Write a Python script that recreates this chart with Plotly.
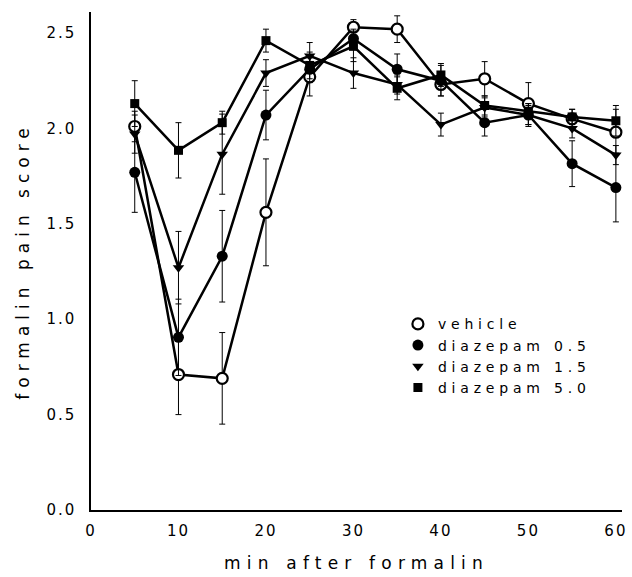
import plotly.graph_objects as go

minutes = [5, 10, 15, 20, 25, 30, 35, 40, 45, 50, 55, 60]

vehicle = [2.01, 0.71, 0.69, 1.56, 2.27, 2.53, 2.52, 2.23, 2.26, 2.13, 2.05, 1.98]
vehicle_err = [0.08, 0.21, 0.24, 0.28, 0.10, 0.04, 0.07, 0.06, 0.09, 0.11, 0.05, 0.12]

dz05 = [1.77, 0.905, 1.33, 2.07, 2.31, 2.47, 2.31, 2.25, 2.03, 2.07, 1.815, 1.69]
dz05_err = [0.21, 0.20, 0.24, 0.13, 0.07, 0.05, 0.08, 0.08, 0.07, 0.06, 0.12, 0.18]

dz15 = [1.97, 1.27, 1.865, 2.29, 2.38, 2.29, 2.23, 2.02, 2.11, 2.07, 2.00, 1.86]
dz15_err = [0.10, 0.19, 0.21, 0.07, 0.07, 0.08, 0.05, 0.06, 0.05, 0.05, 0.05, 0.05]

dz50 = [2.13, 1.885, 2.03, 2.46, 2.33, 2.43, 2.21, 2.28, 2.12, 2.09, 2.06, 2.04]
dz50_err = [0.12, 0.145, 0.06, 0.06, 0.07, 0.08, 0.06, 0.06, 0.05, 0.04, 0.04, 0.08]

x_ticks = [0, 10, 20, 30, 40, 50, 60]
y_ticks = [0.0, 0.5, 1.0, 1.5, 2.0, 2.5]

series = [
    ("vehicle", vehicle, vehicle_err, dict(symbol="circle", size=11, color="white", line=dict(color="black", width=2.2))),
    ("diazepam 0.5", dz05, dz05_err, dict(symbol="circle", size=11, color="black", line=dict(color="black", width=0))),
    ("diazepam 1.5", dz15, dz15_err, dict(symbol="triangle-down", size=10, color="black", line=dict(color="black", width=0))),
    ("diazepam 5.0", dz50, dz50_err, dict(symbol="square", size=9, color="black", line=dict(color="black", width=0))),
]

fig = go.Figure()
for name, ys, errs, mk in series:
    fig.add_trace(go.Scatter(
        x=minutes, y=ys, mode="lines+markers", name=name, showlegend=False,
        line=dict(color="black", width=2.5), marker=mk, cliponaxis=False,
        error_y=dict(type="data", array=errs, visible=True, color="black", thickness=1, width=3),
    ))
for name, ys, errs, mk in series:
    fig.add_trace(go.Scatter(x=[None], y=[None], mode="markers", name=name, marker=mk, showlegend=True))

FONT = "DejaVu Sans, Arial, sans-serif"
fig.update_layout(
    width=632, height=577,
    margin=dict(l=91, r=7, t=12, b=64),
    paper_bgcolor="white", plot_bgcolor="white",
    font=dict(family=FONT, color="black", size=14),
    showlegend=True,
    legend=dict(x=0.578, y=0.405, xanchor="left", yanchor="top", bgcolor="rgba(0,0,0,0)",
                font=dict(size=14, family=FONT), tracegroupgap=0, itemwidth=30),
    xaxis=dict(range=[0, 60.7], tickvals=x_ticks, ticktext=[str(v) for v in x_ticks],
               showgrid=False, zeroline=False, showline=True, linecolor="black", linewidth=1.5,
               ticks="", ticklabelstandoff=6, tickfont=dict(size=15),
               title=dict(text="min after formalin", font=dict(size=17), standoff=18)),
    yaxis=dict(range=[0, 2.61], tickvals=y_ticks, ticktext=[f"{v:.1f}" for v in y_ticks],
               showgrid=False, zeroline=False, showline=True, linecolor="black", linewidth=1.5,
               ticks="", ticklabelstandoff=10, tickfont=dict(size=15),
               title=dict(text="formalin pain score", font=dict(size=17), standoff=18)),
)

post = """
function spaceOut(){
  var gd = document.getElementById('{plot_id}');
  gd.querySelectorAll('.legend [clip-path]').forEach(function(e){e.removeAttribute('clip-path');});
  gd.querySelectorAll('.legendtext').forEach(function(t){t.style.letterSpacing='4.8px';});
  gd.querySelectorAll('.xtick text, .ytick text').forEach(function(t){t.style.letterSpacing='2px';});
  gd.querySelectorAll('.g-xtitle text').forEach(function(t){t.style.letterSpacing='6.2px';});
  gd.querySelectorAll('.g-ytitle text').forEach(function(t){t.style.letterSpacing='6px';});
}
spaceOut();
setTimeout(spaceOut, 50);
"""
fig.write_html("out.html", post_script=post)
